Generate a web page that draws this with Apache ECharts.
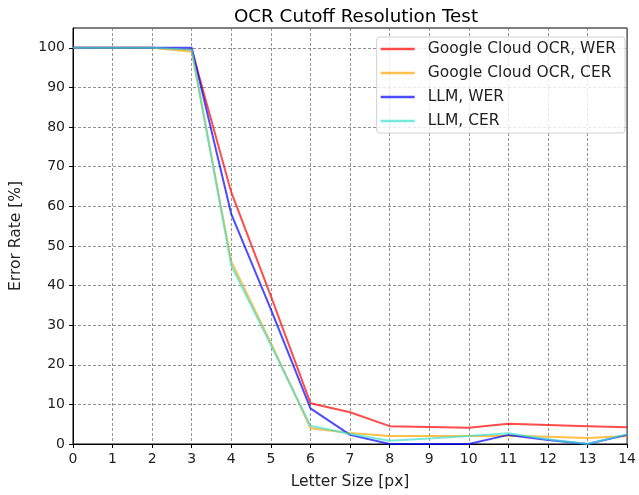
<!DOCTYPE html>
<html>
<head>
<meta charset="utf-8">
<script src="https://cdn.jsdelivr.net/npm/echarts@6/dist/echarts.min.js"></script>
<style>
  html, body { margin: 0; padding: 0; background: #fff; }
  #chart { width: 639px; height: 495px; }
</style>
</head>
<body>
<div id="chart"></div>
<script>
// letter sizes in px
var letterSizes = [0, 1, 2, 3, 4, 5, 6, 7, 8, 9, 10, 11, 12, 13, 14]
// error rates in %
var googleWer = [100, 100, 100, 99.6, 63.5, 37.3, 10.3, 8, 4.5, 4.3, 4.1, 5.1, 4.8, 4.5, 4.2]
var googleCer = [100, 100, 100, 99, 46, 25.5, 4.0, 2.8, 2, 2, 2, 2.1, 1.8, 1.5, 2]
var llmWer = [100, 100, 100, 100, 58, 34, 9, 2.3, 0, 0, 0, 2.3, 1, 0, 2.3]
var llmCer = [100, 100, 100, 99.5, 45, 25, 4.6, 2.5, 0.8, 1.4, 2, 2.7, 1.2, 0, 2.5]
var yTicks = [0, 10, 20, 30, 40, 50, 60, 70, 80, 90, 100]

var font = 'DejaVu Sans'

function pairs(vals) {
  return letterSizes.map(function (x, i) { return [x, vals[i]] })
}

function makeSeries(name, vals, color) {
  return {
    name: name,
    type: 'line',
    data: pairs(vals),
    symbol: 'none',
    showSymbol: false,
    animation: false,
    lineStyle: { color: color, width: 2, opacity: 0.7 },
    itemStyle: { color: color, opacity: 0.7 }
  }
}

var chart = echarts.init(document.getElementById('chart'))
chart.setOption({
  backgroundColor: '#fff',
  animation: false,
  title: {
    text: 'OCR Cutoff Resolution Test',
    left: 351,
    textAlign: 'center',
    top: 3,
    textStyle: { fontFamily: font, fontSize: 18.3, fontWeight: 'normal', color: '#000' }
  },
  grid: {
    left: 72,
    right: 8,
    top: 28,
    bottom: 50,
    show: true,
    borderColor: '#000',
    borderWidth: 1,
    backgroundColor: 'transparent'
  },
  legend: {
    orient: 'vertical',
    right: 14,
    top: 37,
    icon: 'rect',
    backgroundColor: 'rgba(255,255,255,0.8)',
    borderColor: '#d0d0d0',
    borderWidth: 1,
    borderRadius: 3,
    padding: [4, 9, 4, 4],
    itemWidth: 34,
    itemHeight: 2.5,
    itemGap: 8,
    textStyle: { fontFamily: font, fontSize: 15.5, color: '#222', padding: [0, 0, 0, 8] },
    data: ['Google Cloud OCR, WER', 'Google Cloud OCR, CER', 'LLM, WER', 'LLM, CER']
  },
  xAxis: {
    type: 'value',
    min: 0,
    max: 14,
    interval: 1,
    name: 'Letter Size [px]',
    nameLocation: 'middle',
    nameGap: 30,
    nameTextStyle: { fontFamily: font, fontSize: 15.5, color: '#222' },
    axisLine: { show: true, lineStyle: { color: '#000', width: 1 } },
    axisTick: { show: true, length: 4, lineStyle: { color: '#000' } },
    axisLabel: { fontFamily: font, fontSize: 14, color: '#222', margin: 8 },
    splitLine: { show: true, lineStyle: { color: '#777', type: [3, 2], width: 0.8 } }
  },
  yAxis: {
    type: 'value',
    min: 0,
    max: 105,
    interval: 10,
    name: 'Error Rate [%]',
    nameLocation: 'middle',
    nameGap: 49,
    nameTextStyle: { fontFamily: font, fontSize: 15.5, color: '#222' },
    axisLine: { show: true, lineStyle: { color: '#000', width: 1 } },
    axisTick: { show: true, length: 4, lineStyle: { color: '#000' }, customValues: yTicks },
    axisLabel: { fontFamily: font, fontSize: 14, color: '#222', margin: 8, customValues: yTicks },
    splitLine: { show: true, lineStyle: { color: '#777', type: [3, 2], width: 0.8 } }
  },
  series: [
    makeSeries('Google Cloud OCR, WER', googleWer, '#ff0000'),
    makeSeries('Google Cloud OCR, CER', googleCer, '#ffa500'),
    makeSeries('LLM, WER', llmWer, '#0000ff'),
    makeSeries('LLM, CER', llmCer, '#40e0d0')
  ]
})
</script>
</body>
</html>
